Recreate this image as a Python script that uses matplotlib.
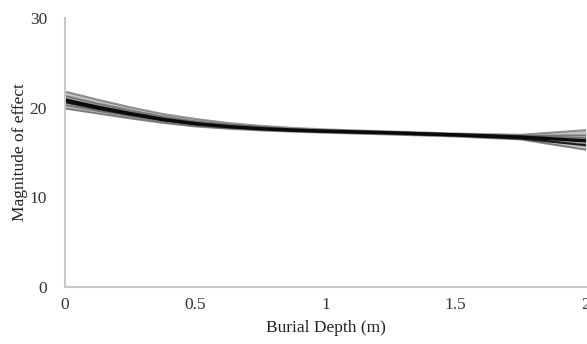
import numpy as np
import matplotlib
matplotlib.use("Agg")
from matplotlib import pyplot as plt

plt.rcParams['font.family'] = ['Liberation Serif', 'DejaVu Serif']

# burial depth (m)
depth = [0, 0.125, 0.25, 0.375, 0.5, 0.625, 0.75, 0.875, 1.0, 1.25, 1.5, 1.75, 2.0]

# fitted curves (magnitude of effect)
mean_fit = [20.85, 20.05, 19.35, 18.7, 18.22, 17.9, 17.66, 17.5, 17.38, 17.2, 16.97, 16.72, 16.3]
dark_fit = [20.6, 19.85, 19.2, 18.6, 18.15, 17.85, 17.62, 17.46, 17.34, 17.14, 16.9, 16.55, 15.8]
band_lines = [
    [21.8, 20.9, 20.05, 19.3, 18.75, 18.3, 17.98, 17.75, 17.58, 17.35, 17.12, 16.98, 17.5],
    [21.3, 20.45, 19.7, 19.0, 18.48, 18.1, 17.82, 17.62, 17.48, 17.27, 17.04, 16.86, 16.9],
    [20.3, 19.65, 19.05, 18.5, 18.05, 17.76, 17.55, 17.4, 17.28, 17.08, 16.86, 16.55, 15.9],
    [19.9, 19.35, 18.8, 18.3, 17.9, 17.65, 17.46, 17.32, 17.2, 17.0, 16.78, 16.45, 15.3],
    [21.0, 20.2, 19.48, 18.82, 18.32, 17.96, 17.7, 17.53, 17.41, 17.22, 17.0, 16.8, 16.6],
]

fig = plt.figure(figsize=(5.87, 3.44), dpi=100)
ax = fig.add_axes([65 / 587, 1 - 287 / 344, 521 / 587, 269 / 344])

ax.fill_between(depth, band_lines[3], band_lines[0], color='#666666', alpha=0.4, lw=0)
for ys in band_lines:
    ax.plot(depth, ys, color='#3a3a3a', lw=1.4, alpha=0.55, solid_capstyle='butt')
ax.plot(depth, dark_fit, color='#1a1a1a', lw=1.4)
ax.plot(depth, mean_fit, color='#0a0a0a', lw=2.4)

ax.set_xlim(0, 2)
ax.set_ylim(0, 30)
ax.set_xticks([0, 0.5, 1, 1.5, 2])
ax.set_xticklabels(['0', '0.5', '1', '1.5', '2'])
ax.set_yticks([0, 10, 20, 30])
ax.tick_params(length=0, labelsize=12.5, colors='#333333', pad=7)
ax.tick_params(axis='y', pad=13)
for s in ['top', 'right']:
    ax.spines[s].set_visible(False)
for s in ['left', 'bottom']:
    ax.spines[s].set_color('#c8c8c8')
    ax.spines[s].set_linewidth(1.5)

ax.set_xlabel('Burial Depth (m)', fontsize=12.5, color='#222222', labelpad=5)
ax.set_ylabel('Magnitude of effect', fontsize=12.5, color='#222222', labelpad=1)

fig.savefig('out.png', dpi=100)
